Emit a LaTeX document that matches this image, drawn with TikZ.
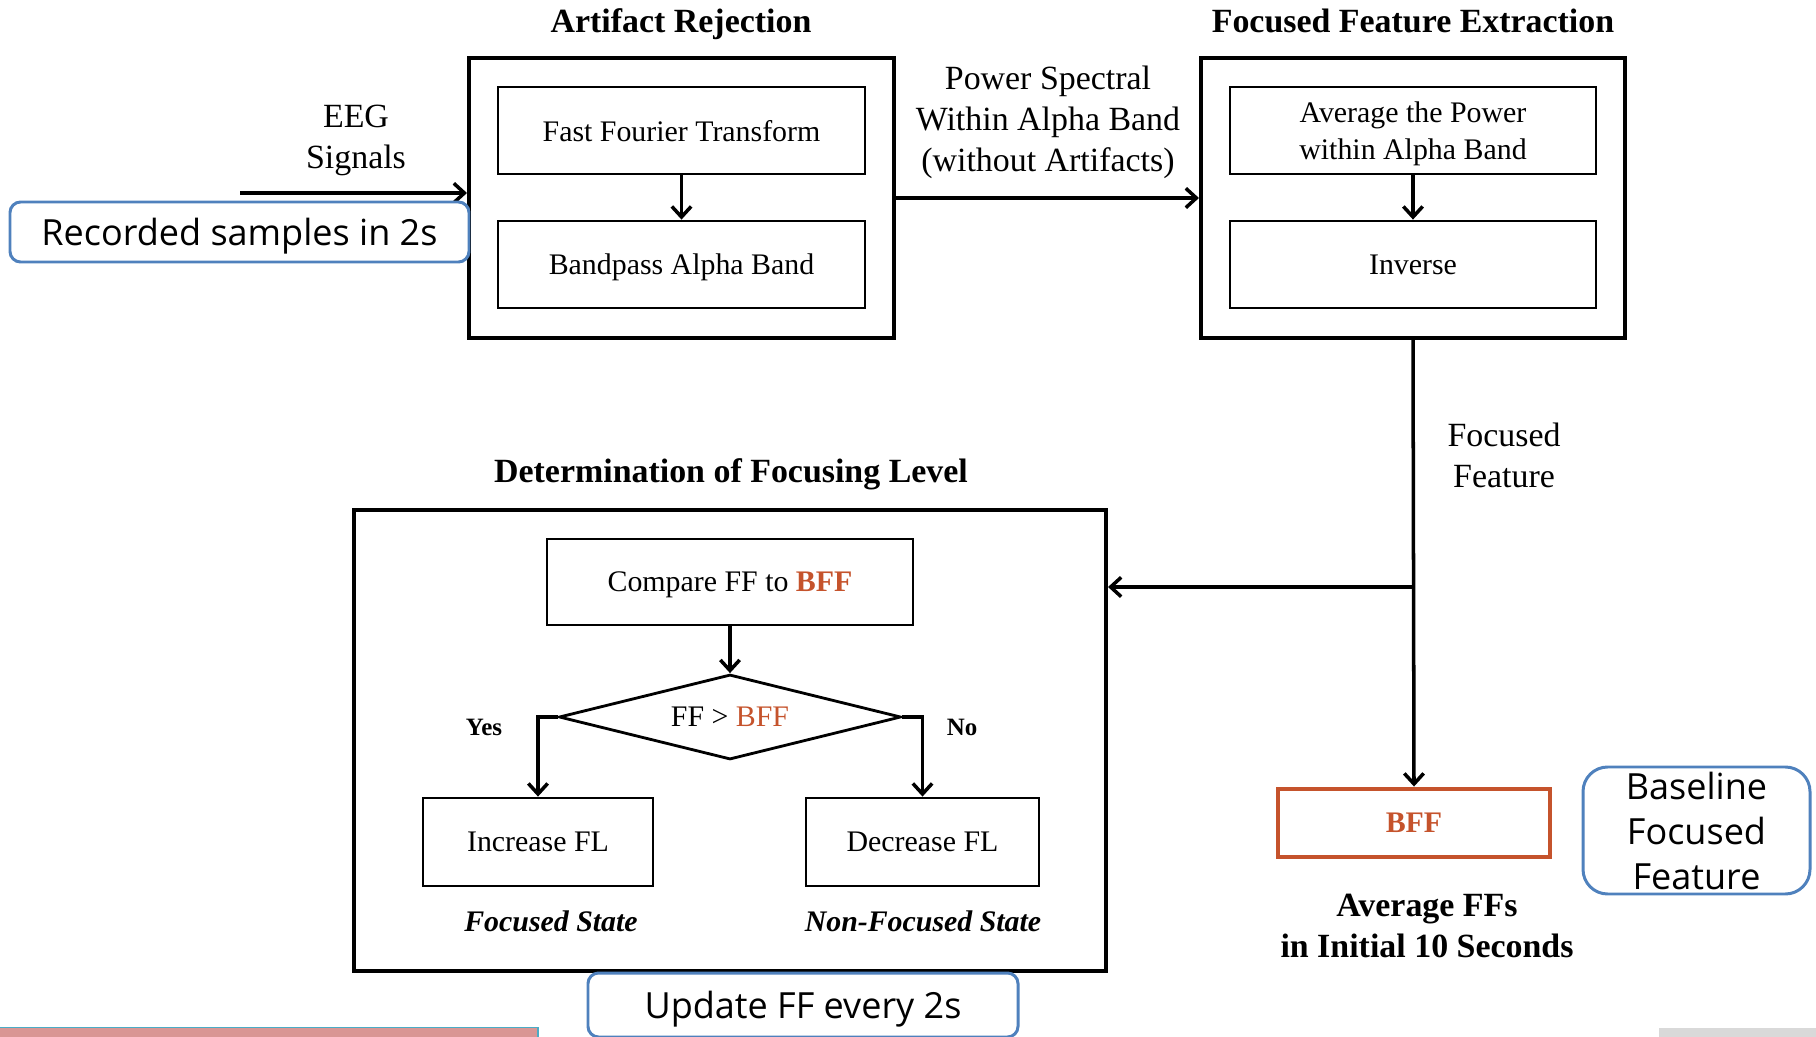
\documentclass[tikz,border=0pt]{standalone}
\usepackage{fontspec}
\setmainfont{Liberation Serif}
\newfontfamily\notefont{Open Sans}
\usetikzlibrary{arrows.meta,shapes.geometric,positioning}
\newlength{\pxu}
\setlength{\pxu}{0.02cm}
\definecolor{bffred}{RGB}{197,83,44}
\definecolor{noteblue}{RGB}{79,129,189}
\definecolor{barred}{RGB}{217,150,148}
\definecolor{barteal}{RGB}{75,172,198}
\definecolor{bargray}{RGB}{217,217,217}
\tikzset{
  blk/.style={draw=black, line width=2.3pt, inner sep=0pt},
  stepbox/.style={
    draw=black,
    line width=1.6pt,
    inner sep=0pt,
    text depth=0pt,
    align=center,
    font=\fontsize{17}{21}\selectfont
  },
  ttl/.style={font=\fontsize{19.3}{23.3}\selectfont\bfseries, inner sep=0pt, text depth=0pt, align=center},
  lbl/.style={font=\fontsize{19.3}{23.3}\selectfont, inner sep=0pt, text depth=0pt, align=center},
  yn/.style={font=\fontsize{14.2}{16}\selectfont\bfseries, inner sep=0pt},
  state/.style={font=\fontsize{17}{20}\selectfont\bfseries\itshape, inner sep=0pt},
  note/.style={
    draw=noteblue,
    line width=1.7pt,
    rounded corners=6pt,
    fill=white,
    inner sep=0pt,
    text depth=0pt,
    align=center,
    font=\notefont\fontsize{20.5}{25.6}\selectfont
  },
  arr/.style={line width=2pt, -{Straight Barb[length=6pt,width=11pt]}},
}

\begin{document}
\begin{tikzpicture}[x=\pxu, y=-\pxu]
  \useasboundingbox (0,0) rectangle (1816,1037);

  % artifact rejection
  \node[ttl] (arT) at (681,21) {Artifact Rejection};
  \node[blk, minimum width=425\pxu, minimum height=280\pxu] (ar) at (681.5,198) {};
  \node[stepbox, minimum width=367\pxu, minimum height=87\pxu] (fft) at (681.5,130.5) {Fast Fourier Transform};
  \node[stepbox, minimum width=367\pxu, minimum height=87\pxu] (bp) at (681.5,264.5) {Bandpass Alpha Band};
  \draw[arr] (fft) -- (bp);

  % focused feature extraction
  \node[ttl] (ffeT) at (1413,21) {Focused Feature Extraction};
  \node[blk, minimum width=424\pxu, minimum height=280\pxu] (ffe) at (1413,198) {};
  \node[stepbox, minimum width=366\pxu, minimum height=87\pxu] (avg) at (1413,130.5) {Average the Power\\within Alpha Band};
  \node[stepbox, minimum width=366\pxu, minimum height=87\pxu] (inv) at (1413,264.5) {Inverse};
  \draw[arr] (avg) -- (inv);

  % inputs and links
  \coordinate (eegin) at (240,193);
  \node[lbl] (eegL) at (356,137) {EEG\\Signals};
  \draw[arr] (eegin) -- (eegin -| ar.west);
  \node[lbl] (psL) at (1048,119) {Power Spectral\\Within Alpha Band\\(without Artifacts)};
  \draw[arr] (ar.east) -- (ffe.west);

  % determination of focusing level
  \node[ttl] (dflT) at (731,471) {Determination of Focusing Level};
  \node[blk, minimum width=752\pxu, minimum height=461\pxu] (dfl) at (730,740.5) {};
  \node[stepbox, minimum width=366\pxu, minimum height=86\pxu] (cmp) at (730,582) {Compare FF to \textcolor{bffred}{\textbf{BFF}}};
  \node[stepbox, diamond, aspect=4, minimum width=342\pxu, minimum height=85\pxu] (test) at (730,717) {FF > \textcolor{bffred}{BFF}};
  \node[stepbox, minimum width=230\pxu, minimum height=88\pxu] (inc) at (538,842) {Increase FL};
  \node[stepbox, minimum width=233\pxu, minimum height=88\pxu] (dec) at (922.5,842) {Decrease FL};
  \draw[arr] (cmp) -- (test);
  \draw[arr] (test.west) -| (inc.north);
  \draw[arr] (test.east) -| (dec.north);
  \node[yn] (yesL) at (484,727) {Yes};
  \node[yn] (noL) at (962,727) {No};
  \node[state] (fsL) at (551,921) {Focused State};
  \node[state] (nfsL) at (923,921) {Non-Focused State};

  % baseline
  \node[draw=bffred, line width=2.8pt, minimum width=272\pxu, minimum height=68\pxu,
        font=\fontsize{17}{20}\selectfont\bfseries, text=bffred] (bff) at (1414,823) {BFF};
  \node[ttl] (bffL) at (1427,925.5) {Average FFs\\in Initial 10 Seconds};
  \coordinate (split) at (1413,587);
  \node[lbl] (ffL) at (1504,455) {Focused\\Feature};
  \draw[arr] (ffe.south) -- (bff.north);
  \draw[arr] (split) -- (split -| dfl.east);

  % notes
  \node[note, minimum width=459\pxu, minimum height=60\pxu] (recN) at (239.5,232) {Recorded samples in 2s};
  \node[note, rounded corners=14pt, minimum width=227\pxu, minimum height=127\pxu] (baseN) at (1696.5,830.5) {Baseline\\Focused\\Feature};
  \node[note, minimum width=430\pxu, minimum height=64\pxu] (updN) at (803,1005) {Update FF every 2s};

  % slide bars
  \fill[barred] (0,1027) rectangle (538,1037);
  \draw[barteal, line width=1pt] (0,1027.5) -- (538,1027.5) -- (538,1037);
  \fill[bargray] (1659,1028) rectangle (1816,1037);
\end{tikzpicture}
\end{document}
